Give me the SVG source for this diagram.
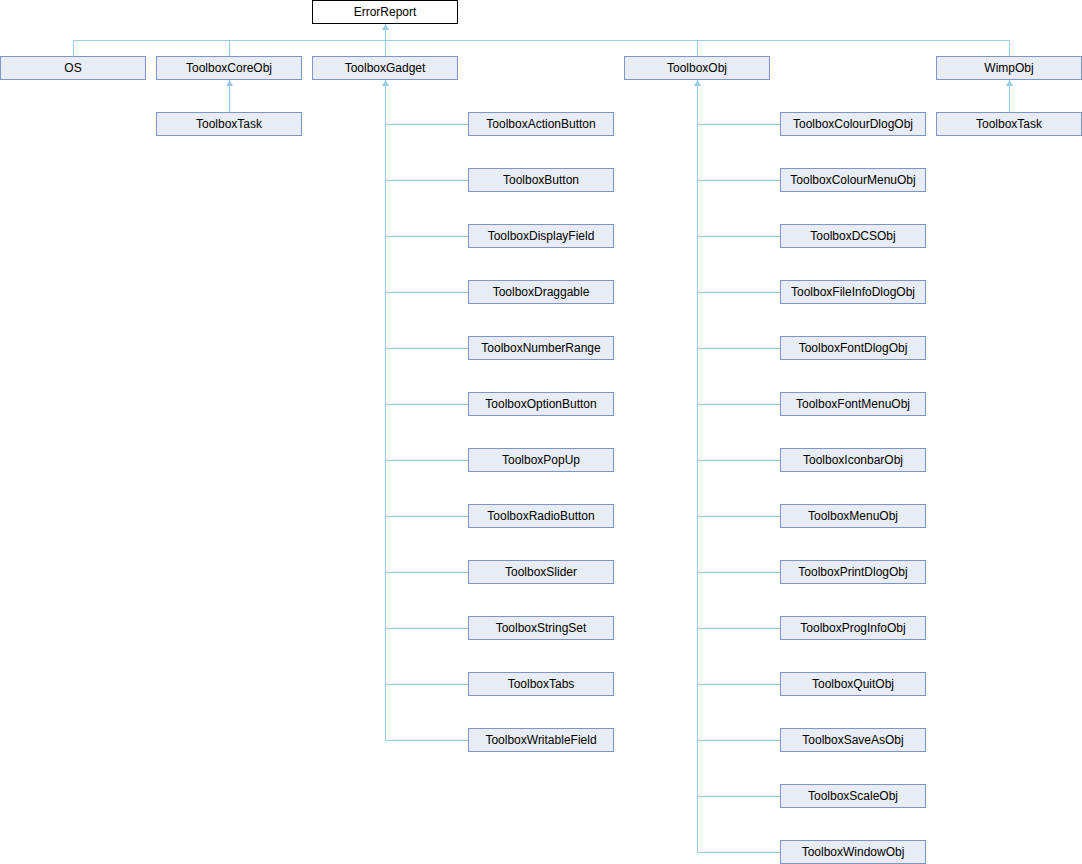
<svg xmlns="http://www.w3.org/2000/svg" width="1082" height="864" viewBox="0 0 1082 864">
<defs>
<style>
.n rect{fill:#E8ECF5;stroke:#7C95CC;stroke-width:1}
.root rect{fill:#FFFFFF;stroke:#000000;stroke-width:1}
text{font-family:"Liberation Sans",Arial,sans-serif;font-size:12px;fill:#000;text-anchor:middle}
.e line{stroke:#94CBEA;stroke-width:1}
.e polygon{fill:#94CBEA;stroke:none}
</style>
</defs>
<rect width="1082" height="864" fill="#FFFFFF"/>
<g class="e" id="connectors">
<line x1="385.5" y1="24" x2="385.5" y2="40.5"/>
<line x1="73.5" y1="40.5" x2="1009.5" y2="40.5"/>
<line x1="73.5" y1="40.5" x2="73.5" y2="56"/>
<line x1="229.5" y1="40.5" x2="229.5" y2="56"/>
<line x1="385.5" y1="40.5" x2="385.5" y2="56"/>
<line x1="697.5" y1="40.5" x2="697.5" y2="56"/>
<line x1="1009.5" y1="40.5" x2="1009.5" y2="56"/>
<polygon points="385.5,24 382,30 389,30"/>
<line x1="229.5" y1="80" x2="229.5" y2="112"/>
<polygon points="229.5,80 226,86 233,86"/>
<line x1="1009.5" y1="80" x2="1009.5" y2="112"/>
<polygon points="1009.5,80 1006,86 1013,86"/>
<line x1="385.5" y1="80" x2="385.5" y2="740.5"/>
<polygon points="385.5,80 382,86 389,86"/>
<line x1="385.5" y1="124.5" x2="468" y2="124.5"/>
<line x1="385.5" y1="180.5" x2="468" y2="180.5"/>
<line x1="385.5" y1="236.5" x2="468" y2="236.5"/>
<line x1="385.5" y1="292.5" x2="468" y2="292.5"/>
<line x1="385.5" y1="348.5" x2="468" y2="348.5"/>
<line x1="385.5" y1="404.5" x2="468" y2="404.5"/>
<line x1="385.5" y1="460.5" x2="468" y2="460.5"/>
<line x1="385.5" y1="516.5" x2="468" y2="516.5"/>
<line x1="385.5" y1="572.5" x2="468" y2="572.5"/>
<line x1="385.5" y1="628.5" x2="468" y2="628.5"/>
<line x1="385.5" y1="684.5" x2="468" y2="684.5"/>
<line x1="385.5" y1="740.5" x2="468" y2="740.5"/>
<line x1="697.5" y1="80" x2="697.5" y2="852.5"/>
<polygon points="697.5,80 694,86 701,86"/>
<line x1="697.5" y1="124.5" x2="780" y2="124.5"/>
<line x1="697.5" y1="180.5" x2="780" y2="180.5"/>
<line x1="697.5" y1="236.5" x2="780" y2="236.5"/>
<line x1="697.5" y1="292.5" x2="780" y2="292.5"/>
<line x1="697.5" y1="348.5" x2="780" y2="348.5"/>
<line x1="697.5" y1="404.5" x2="780" y2="404.5"/>
<line x1="697.5" y1="460.5" x2="780" y2="460.5"/>
<line x1="697.5" y1="516.5" x2="780" y2="516.5"/>
<line x1="697.5" y1="572.5" x2="780" y2="572.5"/>
<line x1="697.5" y1="628.5" x2="780" y2="628.5"/>
<line x1="697.5" y1="684.5" x2="780" y2="684.5"/>
<line x1="697.5" y1="740.5" x2="780" y2="740.5"/>
<line x1="697.5" y1="796.5" x2="780" y2="796.5"/>
<line x1="697.5" y1="852.5" x2="780" y2="852.5"/>
</g>
<g class="root" id="ErrorReport"><rect x="312.5" y="0.5" width="145" height="23"/><text x="385" y="16">ErrorReport</text></g>
<g class="n" id="OS"><rect x="0.5" y="56.5" width="145" height="23"/><text x="73" y="72">OS</text></g>
<g class="n" id="ToolboxCoreObj"><rect x="156.5" y="56.5" width="145" height="23"/><text x="229" y="72">ToolboxCoreObj</text></g>
<g class="n" id="ToolboxGadget"><rect x="312.5" y="56.5" width="145" height="23"/><text x="385" y="72">ToolboxGadget</text></g>
<g class="n" id="ToolboxObj"><rect x="624.5" y="56.5" width="145" height="23"/><text x="697" y="72">ToolboxObj</text></g>
<g class="n" id="WimpObj"><rect x="936.5" y="56.5" width="145" height="23"/><text x="1009" y="72">WimpObj</text></g>
<g class="n" id="ToolboxTask1"><rect x="156.5" y="112.5" width="145" height="23"/><text x="229" y="128">ToolboxTask</text></g>
<g class="n" id="ToolboxTask2"><rect x="936.5" y="112.5" width="145" height="23"/><text x="1009" y="128">ToolboxTask</text></g>
<g class="n" id="ToolboxActionButton"><rect x="468.5" y="112.5" width="145" height="23"/><text x="541" y="128">ToolboxActionButton</text></g>
<g class="n" id="ToolboxButton"><rect x="468.5" y="168.5" width="145" height="23"/><text x="541" y="184">ToolboxButton</text></g>
<g class="n" id="ToolboxDisplayField"><rect x="468.5" y="224.5" width="145" height="23"/><text x="541" y="240">ToolboxDisplayField</text></g>
<g class="n" id="ToolboxDraggable"><rect x="468.5" y="280.5" width="145" height="23"/><text x="541" y="296">ToolboxDraggable</text></g>
<g class="n" id="ToolboxNumberRange"><rect x="468.5" y="336.5" width="145" height="23"/><text x="541" y="352">ToolboxNumberRange</text></g>
<g class="n" id="ToolboxOptionButton"><rect x="468.5" y="392.5" width="145" height="23"/><text x="541" y="408">ToolboxOptionButton</text></g>
<g class="n" id="ToolboxPopUp"><rect x="468.5" y="448.5" width="145" height="23"/><text x="541" y="464">ToolboxPopUp</text></g>
<g class="n" id="ToolboxRadioButton"><rect x="468.5" y="504.5" width="145" height="23"/><text x="541" y="520">ToolboxRadioButton</text></g>
<g class="n" id="ToolboxSlider"><rect x="468.5" y="560.5" width="145" height="23"/><text x="541" y="576">ToolboxSlider</text></g>
<g class="n" id="ToolboxStringSet"><rect x="468.5" y="616.5" width="145" height="23"/><text x="541" y="632">ToolboxStringSet</text></g>
<g class="n" id="ToolboxTabs"><rect x="468.5" y="672.5" width="145" height="23"/><text x="541" y="688">ToolboxTabs</text></g>
<g class="n" id="ToolboxWritableField"><rect x="468.5" y="728.5" width="145" height="23"/><text x="541" y="744">ToolboxWritableField</text></g>
<g class="n" id="ToolboxColourDlogObj"><rect x="780.5" y="112.5" width="145" height="23"/><text x="853" y="128">ToolboxColourDlogObj</text></g>
<g class="n" id="ToolboxColourMenuObj"><rect x="780.5" y="168.5" width="145" height="23"/><text x="853" y="184">ToolboxColourMenuObj</text></g>
<g class="n" id="ToolboxDCSObj"><rect x="780.5" y="224.5" width="145" height="23"/><text x="853" y="240">ToolboxDCSObj</text></g>
<g class="n" id="ToolboxFileInfoDlogObj"><rect x="780.5" y="280.5" width="145" height="23"/><text x="853" y="296">ToolboxFileInfoDlogObj</text></g>
<g class="n" id="ToolboxFontDlogObj"><rect x="780.5" y="336.5" width="145" height="23"/><text x="853" y="352">ToolboxFontDlogObj</text></g>
<g class="n" id="ToolboxFontMenuObj"><rect x="780.5" y="392.5" width="145" height="23"/><text x="853" y="408">ToolboxFontMenuObj</text></g>
<g class="n" id="ToolboxIconbarObj"><rect x="780.5" y="448.5" width="145" height="23"/><text x="853" y="464">ToolboxIconbarObj</text></g>
<g class="n" id="ToolboxMenuObj"><rect x="780.5" y="504.5" width="145" height="23"/><text x="853" y="520">ToolboxMenuObj</text></g>
<g class="n" id="ToolboxPrintDlogObj"><rect x="780.5" y="560.5" width="145" height="23"/><text x="853" y="576">ToolboxPrintDlogObj</text></g>
<g class="n" id="ToolboxProgInfoObj"><rect x="780.5" y="616.5" width="145" height="23"/><text x="853" y="632">ToolboxProgInfoObj</text></g>
<g class="n" id="ToolboxQuitObj"><rect x="780.5" y="672.5" width="145" height="23"/><text x="853" y="688">ToolboxQuitObj</text></g>
<g class="n" id="ToolboxSaveAsObj"><rect x="780.5" y="728.5" width="145" height="23"/><text x="853" y="744">ToolboxSaveAsObj</text></g>
<g class="n" id="ToolboxScaleObj"><rect x="780.5" y="784.5" width="145" height="23"/><text x="853" y="800">ToolboxScaleObj</text></g>
<g class="n" id="ToolboxWindowObj"><rect x="780.5" y="840.5" width="145" height="23"/><text x="853" y="856">ToolboxWindowObj</text></g>
</svg>
